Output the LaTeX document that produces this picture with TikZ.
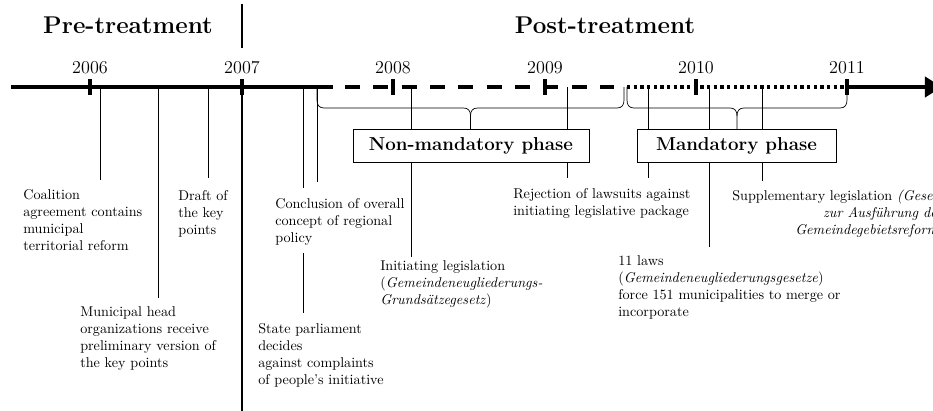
\documentclass[tikz,border=0pt]{standalone}
\usetikzlibrary{arrows.meta}
\begin{document}
\begin{tikzpicture}[x=0.7055pt,y=-0.7055pt,
  evline/.style={line width=0.5pt},
  sepline/.style={line width=1.2pt},
  bracepath/.style={line width=0.5pt},
  txt/.style={anchor=north west,inner sep=0pt,align=left,font=\normalsize},
  txtr/.style={anchor=north west,inner sep=0pt,align=right,font=\normalsize},
  phasebox/.style={draw,line width=0.6pt,fill=white,minimum height=23.3pt,inner sep=0pt,font=\fontsize{13.2}{16}\selectfont\bfseries},
  yearlbl/.style={font=\fontsize{12.8}{15}\selectfont,inner sep=0pt},
  titlelbl/.style={font=\fontsize{17.1}{20}\selectfont\bfseries,inner sep=0pt},
  tlsolid/.style={line width=3pt},
  tldash/.style={line width=3pt,dash pattern=on 10.6pt off 9.4pt},
  tldot/.style={line width=3pt,dash pattern=on 2.35pt off 2.35pt},
  tickmark/.style={line width=2.8pt}]
\useasboundingbox (0,0) rectangle (933,410);

% titles and separator
\node[titlelbl] (pre) at (128,25) {Pre-treatment};
\node[titlelbl] (post) at (605,25) {Post-treatment};
\coordinate (sepA) at (242,4);
\coordinate (sepB) at (242,48);
\coordinate (sepC) at (242,87);
\coordinate (sepD) at (242,412);
\draw[sepline] (sepA) -- (sepB);
\draw[sepline] (sepC) -- (sepD);

% event lines
\foreach \n/\x/\y in {a/100/180, b/158/298, c/208/178, e/317/182, f/411/257, g/567/178, h/648/178, i/709/247, j/762/181}{
  \coordinate (top\n) at (\x,87);
  \coordinate (end\n) at (\x,\y);
  \draw[evline] (top\n) -- (end\n);
}
\coordinate (topd) at (303,87);
\coordinate (midd1) at (303,188);
\coordinate (midd2) at (303,253);
\coordinate (endd) at (303,313);
\draw[evline] (topd) -- (midd1);
\draw[evline] (midd2) -- (endd);

% braces
\draw[bracepath] (317,87) -- (317,100) .. controls (317,105) and (319,108) .. (324,108)
  -- (463.5,108) .. controls (468.5,108) and (470.5,111) .. (470.5,116) -- (470.5,129);
\draw[bracepath] (470.5,116) .. controls (470.5,111) and (472.5,108) .. (477.5,108)
  -- (617,108) .. controls (622,108) and (624,105) .. (624,100) -- (624,87);
\draw[bracepath] (627,87) -- (627,100) .. controls (627,105) and (629,108) .. (634,108)
  -- (730,108) .. controls (735,108) and (737,111) .. (737,116) -- (737,129);
\draw[bracepath] (737,116) .. controls (737,111) and (739,108) .. (744,108)
  -- (840,108) .. controls (845,108) and (847,105) .. (847,100) -- (847,87);

% phase boxes
\node[phasebox,minimum width=166.5pt] (nonmand) at (471,145.5) {Non-mandatory phase};
\node[phasebox,minimum width=140.4pt] (mand) at (736.5,145.5) {Mandatory phase};

% timeline
\coordinate (tl0) at (11,87);
\coordinate (tl1) at (333,87);
\coordinate (tl2) at (345,87);
\coordinate (tl3) at (614,87);
\coordinate (tl4) at (627,87);
\coordinate (tl5) at (847,87);
\coordinate (tl6) at (942,87);
\draw[tlsolid] (tl0) -- (tl1);
\draw[tldash] (tl2) -- (tl3);
\draw[tldot] (tl4) -- (tl5);
\draw[tlsolid,-{Triangle[length=12pt,width=14pt]}] (tl5) -- (tl6);

% ticks and years
\foreach \x/\yr in {90/2006, 242/2007, 393/2008, 545/2009, 696/2010, 847/2011}{
  \coordinate (tka\yr) at (\x,79);
  \coordinate (tkb\yr) at (\x,95);
  \draw[tickmark] (tka\yr) -- (tkb\yr);
  \node[yearlbl] (y\yr) at (\x,67.5) {\yr};
}

% event texts
\node[txt] (coal) at (23,189) {Coalition\\agreement contains\\municipal\\territorial reform};
\node[txt] (draft) at (178,190) {Draft of\\the key\\points};
\node[txt] (concl) at (275,198) {Conclusion of overall\\concept of regional\\policy};
\node[txt] (munic) at (80,306) {Municipal head\\organizations receive\\preliminary version of\\the key points};
\node[txt] (state) at (258,323) {State parliament\\decides\\against complaints\\of people's initiative};
\node[txt] (init) at (380,260) {Initiating legislation\\(\textit{Gemeindeneugliederungs-}\\\textit{Grunds\"atzegesetz})};
\node[txt] (reject) at (513,188) {Rejection of lawsuits against\\initiating legislative package};
\node[txt] (laws) at (618,255) {11 laws\\(\textit{Gemeindeneugliederungsgesetze})\\force 151 municipalities to merge or\\incorporate};
\node[txtr] (suppl) at (732,190) {Supplementary legislation \textit{(Gesetz}\\\textit{zur Ausf\"uhrung der}\\\textit{Gemeindegebietsreform)}};
\end{tikzpicture}
\end{document}
